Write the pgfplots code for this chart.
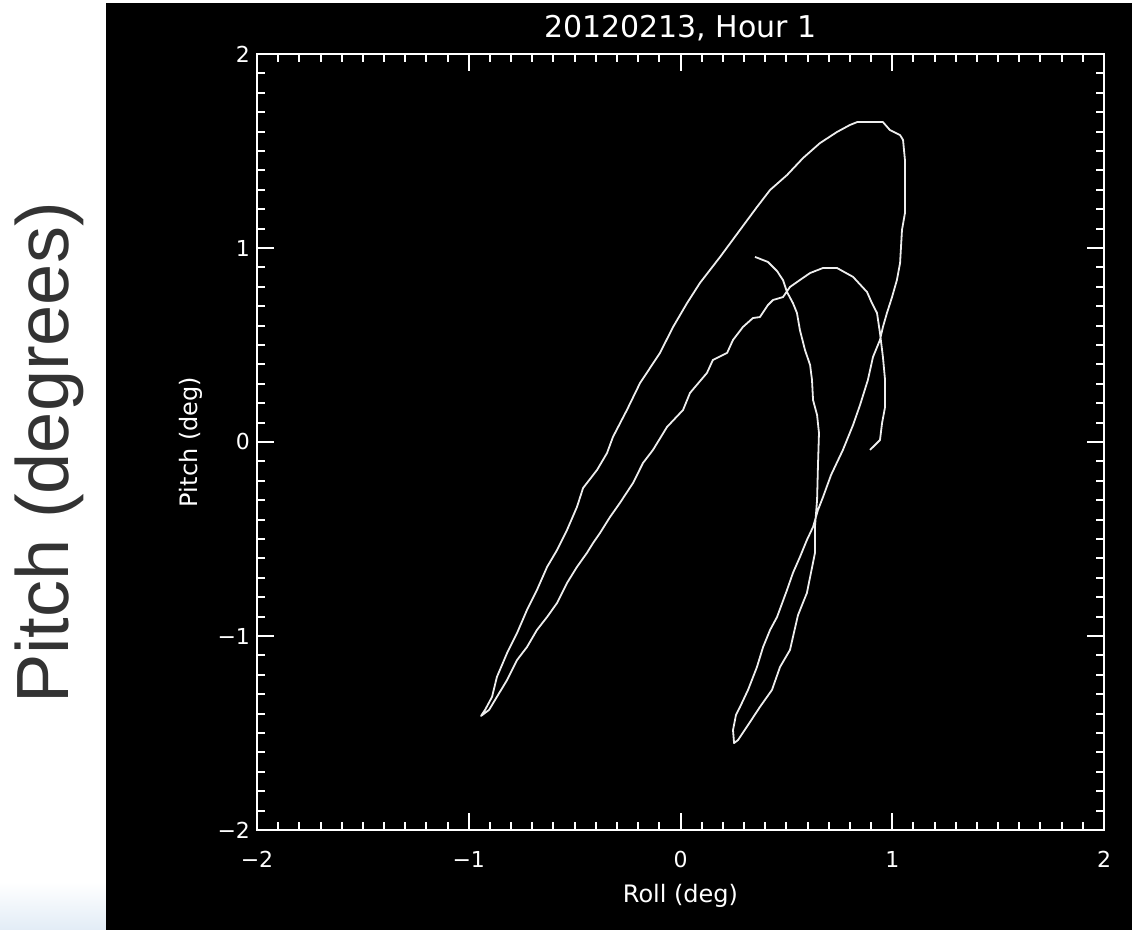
\documentclass[border=0pt]{standalone}
\usepackage{fontspec}
\setmainfont{DejaVu Sans}
\newfontfamily\arialfont{Liberation Sans}
\usepackage{pgfplots}
\pgfplotsset{compat=1.18}
\definecolor{wash}{RGB}{226,236,246}
\definecolor{trace}{RGB}{238,238,238}
\begin{document}
\begin{tikzpicture}
\useasboundingbox (0,0) rectangle (566pt,465pt);
\fill[white] (0,0) rectangle (566pt,465pt);
\shade[top color=white,bottom color=wash] (0,0) rectangle (53pt,24pt);
\fill[black] (53pt,0) rectangle (566pt,463.5pt);
% slide caption on the left
\node[rotate=90,anchor=base,text=black!80,inner sep=0pt,
  font=\arialfont\fontsize{37pt}{40pt}\selectfont] at (34pt,238.5pt) {Pitch (degrees)};
\begin{axis}[
  at={(128.5pt,50pt)}, anchor=south west,
  scale only axis, width=423.5pt, height=388pt,
  xmin=-2, xmax=2, ymin=-2, ymax=2,
  xtick={-2,...,2}, ytick={-2,...,2},
  xticklabels={−2,−1,0,1,2}, yticklabels={−2,−1,0,1,2},
  minor tick num=9,
  tick align=inside,
  xtick pos=both, ytick pos=both,
  xticklabel pos=lower, yticklabel pos=left,
  major tick length=8.5pt, minor tick length=4pt,
  axis line style={white, line width=1pt},
  every tick/.style={white, line width=1pt},
  tick label style={text=white, font=\fontsize{11pt}{13pt}\selectfont},
  xticklabel style={yshift=-7pt},
  title={20120213, Hour 1},
  title style={text=white, font=\fontsize{15pt}{18pt}\selectfont,
    at={(axis description cs:0.5,1.0206)}, anchor=base, yshift=-5.5pt},
  xlabel={Roll (deg)},
  xlabel style={text=white, font=\fontsize{12pt}{14pt}\selectfont,
    at={(axis description cs:0.5,-0.094)}, anchor=base},
  ylabel={Pitch (deg)},
  ylabel style={text=white, font=\fontsize{12pt}{14pt}\selectfont,
    at={(axis description cs:-0.0708,0.5)}, anchor=base},
]
\addplot[trace, line width=0.9pt, line join=round, mark=none] table {
x y
0.352 0.954
0.413 0.928
0.456 0.881
0.484 0.835
0.503 0.773
0.531 0.716
0.550 0.665
0.564 0.577
0.588 0.474
0.612 0.397
0.621 0.320
0.626 0.216
0.645 0.139
0.654 0.046
0.649 -0.129
0.645 -0.299
0.635 -0.438
0.635 -0.572
0.597 -0.778
0.555 -0.892
0.517 -1.072
0.470 -1.160
0.432 -1.278
0.375 -1.366
0.319 -1.459
0.272 -1.536
0.253 -1.552
0.248 -1.485
0.262 -1.407
0.281 -1.366
0.319 -1.278
0.361 -1.160
0.390 -1.057
0.423 -0.969
0.456 -0.902
0.503 -0.763
0.531 -0.675
0.564 -0.593
0.597 -0.505
0.626 -0.438
0.649 -0.351
0.673 -0.284
0.711 -0.170
0.767 -0.041
0.815 0.088
0.848 0.191
0.885 0.320
0.909 0.438
0.942 0.526
0.956 0.593
0.975 0.665
0.999 0.747
1.022 0.835
1.037 0.923
1.046 1.093
1.060 1.180
1.060 1.454
1.051 1.557
1.037 1.582
0.989 1.608
0.956 1.649
0.834 1.649
0.800 1.634
0.739 1.598
0.659 1.541
0.579 1.464
0.503 1.376
0.423 1.299
0.361 1.211
0.281 1.093
0.187 0.954
0.092 0.820
0.031 0.716
-0.035 0.593
-0.097 0.459
-0.191 0.304
-0.253 0.165
-0.319 0.026
-0.347 -0.057
-0.394 -0.144
-0.460 -0.237
-0.489 -0.335
-0.536 -0.454
-0.583 -0.557
-0.630 -0.644
-0.678 -0.763
-0.725 -0.866
-0.772 -0.985
-0.819 -1.088
-0.867 -1.211
-0.890 -1.314
-0.923 -1.381
-0.942 -1.412
-0.904 -1.381
-0.876 -1.330
-0.819 -1.227
-0.772 -1.124
-0.725 -1.057
-0.678 -0.969
-0.630 -0.902
-0.583 -0.830
-0.536 -0.727
-0.489 -0.644
-0.442 -0.572
-0.413 -0.521
-0.380 -0.469
-0.333 -0.387
-0.286 -0.314
-0.224 -0.211
-0.177 -0.108
-0.130 -0.041
-0.064 0.077
0.012 0.165
0.045 0.253
0.125 0.356
0.153 0.423
0.220 0.459
0.248 0.526
0.295 0.593
0.342 0.639
0.375 0.644
0.413 0.706
0.437 0.732
0.484 0.747
0.517 0.799
0.564 0.835
0.612 0.871
0.673 0.897
0.739 0.897
0.815 0.851
0.881 0.773
0.904 0.716
0.928 0.665
0.942 0.562
0.956 0.438
0.966 0.320
0.966 0.180
0.952 0.098
0.942 0.010
0.895 -0.041
};
\end{axis}
\end{tikzpicture}
\end{document}
